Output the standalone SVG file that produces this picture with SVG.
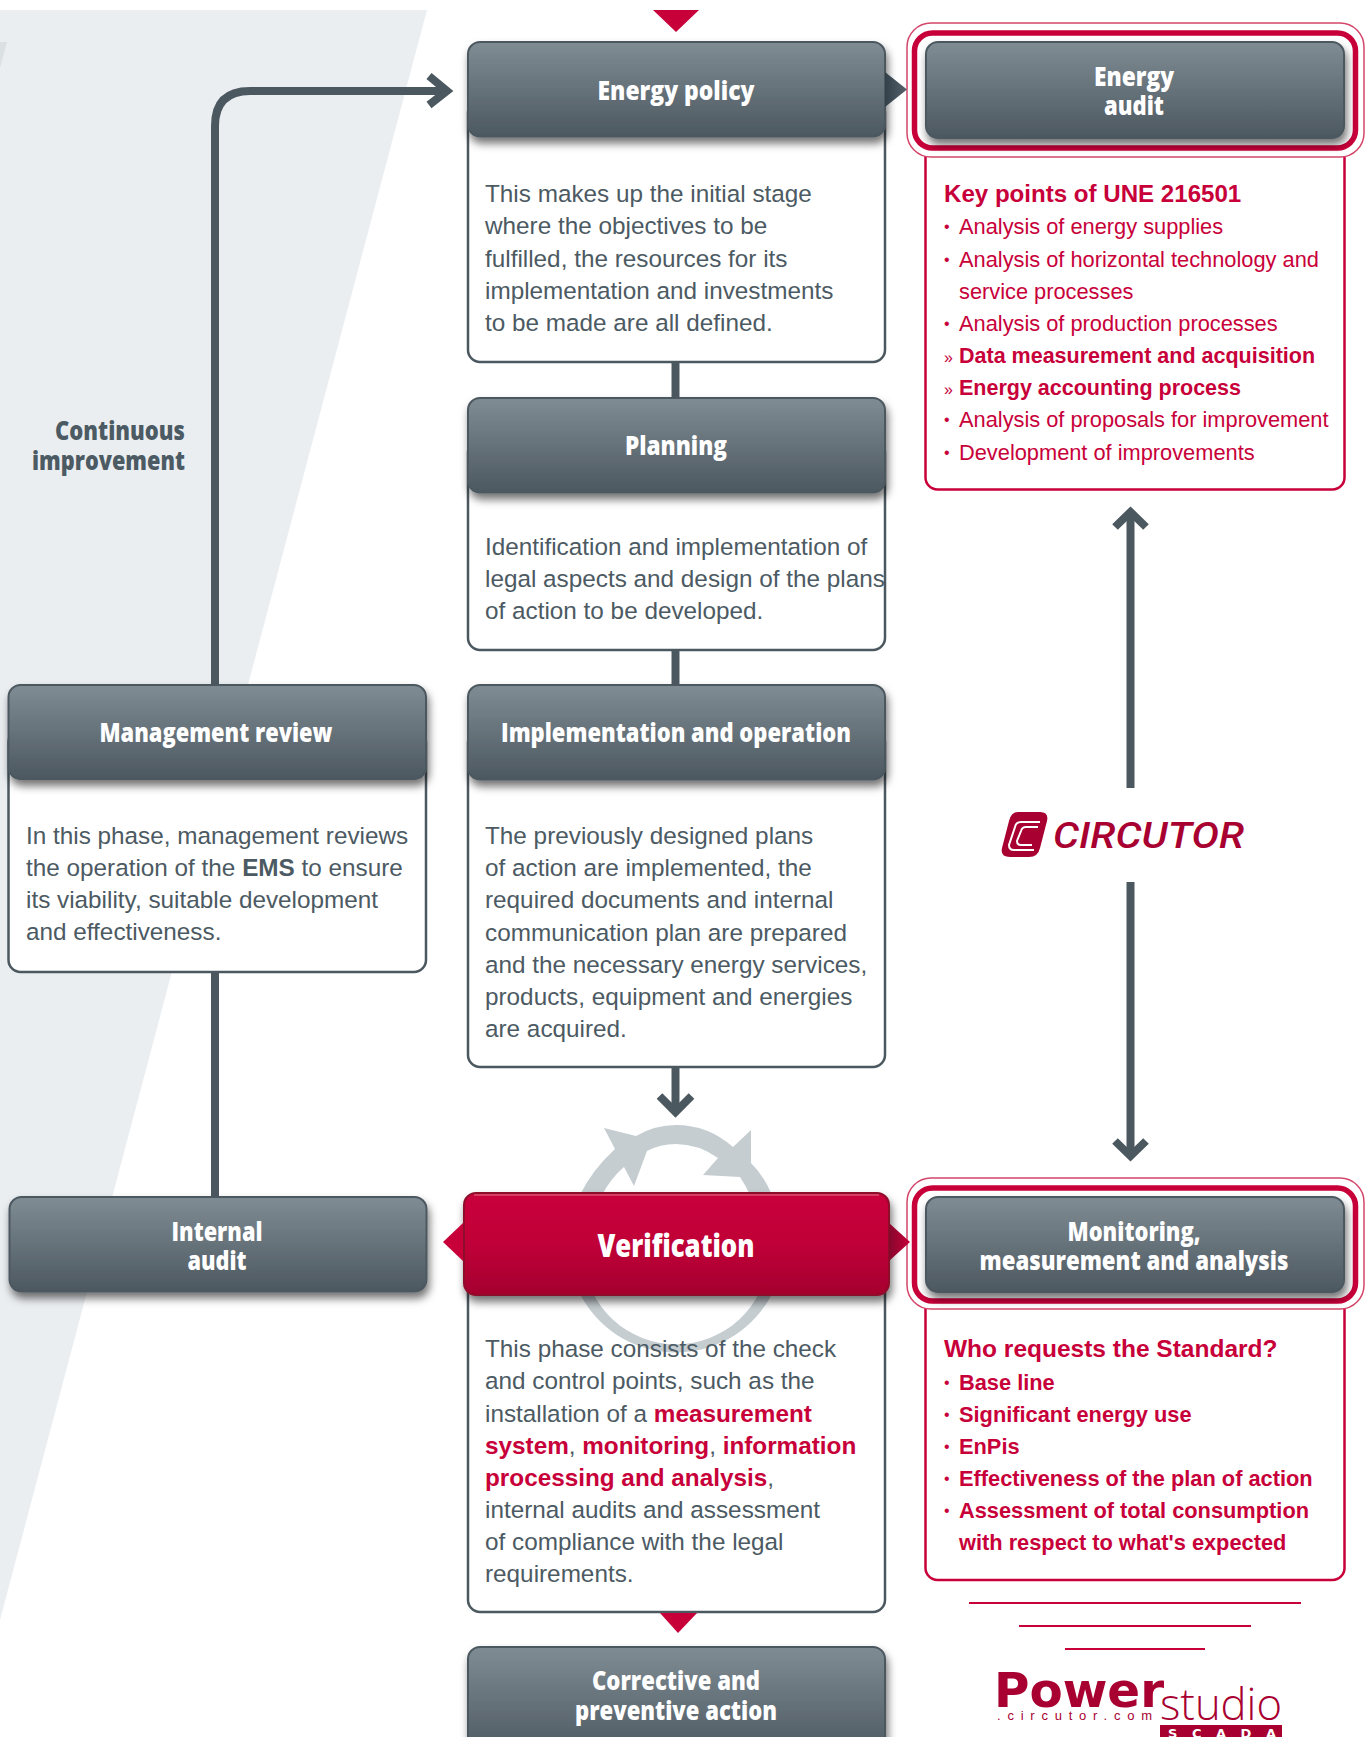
<svg xmlns="http://www.w3.org/2000/svg" width="1367" height="1737" viewBox="0 0 1367 1737">
<style>
.hd{font-family:"Open Sans","Noto Sans",sans-serif;font-weight:800;font-size:26px;fill:#fff;text-anchor:middle}
.b{font-family:"Liberation Sans",Arial,sans-serif;font-size:24.300px;fill:#4c5a63}
.r{font-family:"Liberation Sans",Arial,sans-serif;font-size:21.800px;fill:#c8003a}
.m{font-family:"Liberation Sans",Arial,sans-serif;font-size:16px;fill:#c8003a}
.rb{font-weight:700}
.card{fill:#fff;stroke:#4c5860;stroke-width:2.500}
.rcard{fill:#fff;stroke:#c8003a;stroke-width:2.500}
.hdr{fill:url(#gh);stroke:#4c5860;stroke-width:2}
.conn{fill:none;stroke:#4c5860;stroke-width:8}
</style>
<defs>
<linearGradient id="gh" x1="0" y1="0" x2="0" y2="1"><stop offset="0" stop-color="#808c93"/><stop offset="1" stop-color="#4c5860"/></linearGradient>
<linearGradient id="gr" x1="0" y1="0" x2="0" y2="1"><stop offset="0" stop-color="#c9033b"/><stop offset=".5" stop-color="#c00238"/><stop offset="1" stop-color="#a5002e"/></linearGradient>
<linearGradient id="ga" x1="0" y1="0" x2="1" y2="0"><stop offset="0" stop-color="#33404a"/><stop offset="1" stop-color="#56636b"/></linearGradient>
<linearGradient id="gra" x1="0" y1="0" x2="1" y2="0"><stop offset="0" stop-color="#85082c"/><stop offset="1" stop-color="#c8003a"/></linearGradient>
<filter id="sh" x="-10%" y="-20%" width="120%" height="150%"><feDropShadow dx="2" dy="6" stdDeviation="4" flood-color="#000" flood-opacity=".55"/></filter>
</defs>
<rect width="1367" height="1737" fill="#fff"/>
<g id="background">
<polygon points="0,10 427,10 0,1620" fill="#ebeef1"/>
<polygon points="0,42 7,42 0,68" fill="#dbe0e3"/>
</g>
<g id="card-bodies">
<rect class="card" x="468" y="100" width="417" height="262" rx="12"/>
<rect class="card" x="468" y="440" width="417" height="210" rx="12"/>
<rect class="card" x="468" y="730" width="417" height="337" rx="12"/>
<rect class="card" x="8.500" y="730" width="417.500" height="242" rx="12"/>
<rect class="card" x="468" y="1250" width="417" height="362" rx="12"/>
<rect class="rcard" x="925.500" y="120" width="419" height="369.500" rx="12"/>
<rect class="rcard" x="925.500" y="1260" width="419" height="320" rx="12"/>
</g>
<g id="connectors">
<path class="conn" d="M215 684V126Q215 91 250 91H447"/>
<polyline class="conn" points="429,76 447,91 429,105"/>
<line class="conn" x1="215" y1="972" x2="215" y2="1196"/>
<line class="conn" x1="675.500" y1="362" x2="675.500" y2="398"/>
<line class="conn" x1="675.500" y1="650" x2="675.500" y2="685"/>
<path class="conn" d="M675.500 1067V1112"/>
<polyline class="conn" points="659.500,1096 675.500,1112 691.500,1096"/>
<path class="conn" d="M1130.500 788V512"/>
<polyline class="conn" points="1115,527 1130.500,512 1146,527"/>
<path class="conn" d="M1130.500 882V1156"/>
<polyline class="conn" points="1115,1141 1130.500,1156 1146,1141"/>
</g>
<g id="cycle-arrows">
<path fill="#c5cdd1" fill-rule="evenodd" d="M580 1195A108 108 0 1 0 772 1195L750 1195A93 93 0 1 1 602 1195Z"/>
<path fill="#c5cdd1" d="M580 1195Q592 1170 615 1149L604 1128 636 1136Q655 1125 676 1125Q708 1125 733 1147L751 1130V1163Q764 1176 772 1195H750Q746 1186 740 1177L703 1175 718 1158Q698 1144 676 1144Q660 1144 647 1151L634 1186 624 1167Q611 1178 602 1195Z"/>
</g>
<g id="energy-policy">
<rect class="hdr" x="468" y="42" width="417" height="94.500" rx="12" filter="url(#sh)"/>
<text class="hd" x="676" y="100" textLength="157" lengthAdjust="spacingAndGlyphs">Energy policy</text>
<text class="b" x="485" y="202">This makes up the initial stage</text>
<text class="b" x="485" y="234">where the objectives to be</text>
<text class="b" x="485" y="266.500">fulfilled, the resources for its</text>
<text class="b" x="485" y="298.700">implementation and investments</text>
<text class="b" x="485" y="331">to be made are all defined.</text>
</g>
<g id="planning">
<rect class="hdr" x="468" y="398" width="417" height="94.500" rx="12" filter="url(#sh)"/>
<text class="hd" x="676" y="455" textLength="102" lengthAdjust="spacingAndGlyphs">Planning</text>
<text class="b" x="485" y="555">Identification and implementation of</text>
<text class="b" x="485" y="587">legal aspects and design of the plans</text>
<text class="b" x="485" y="619">of action to be developed.</text>
</g>
<g id="implementation">
<rect class="hdr" x="468" y="685" width="417" height="94.500" rx="12" filter="url(#sh)"/>
<text class="hd" x="676" y="742" textLength="350" lengthAdjust="spacingAndGlyphs">Implementation and operation</text>
<text class="b" x="485" y="844">The previously designed plans</text>
<text class="b" x="485" y="876">of action are implemented, the</text>
<text class="b" x="485" y="908">required documents and internal</text>
<text class="b" x="485" y="941">communication plan are prepared</text>
<text class="b" x="485" y="973">and the necessary energy services,</text>
<text class="b" x="485" y="1005">products, equipment and energies</text>
<text class="b" x="485" y="1037">are acquired.</text>
</g>
<g id="management-review">
<rect class="hdr" x="8.500" y="685" width="417.500" height="94" rx="12" filter="url(#sh)"/>
<text class="hd" x="216" y="742" textLength="233" lengthAdjust="spacingAndGlyphs">Management review</text>
<text class="b" x="26" y="844">In this phase, management reviews</text>
<text class="b" x="26" y="876">the operation of the <tspan font-weight="700">EMS</tspan> to ensure</text>
<text class="b" x="26" y="908">its viability, suitable development</text>
<text class="b" x="26" y="940">and effectiveness.</text>
</g>
<g id="continuous-improvement">
<text class="hd" x="185" y="440" style="text-anchor:end;fill:#4c5a63" textLength="130" lengthAdjust="spacingAndGlyphs">Continuous</text>
<text class="hd" x="185" y="470" style="text-anchor:end;fill:#4c5a63" textLength="153" lengthAdjust="spacingAndGlyphs">improvement</text>
</g>
<g id="internal-audit">
<rect class="hdr" x="9.500" y="1197" width="417" height="94.500" rx="12" filter="url(#sh)"/>
<text class="hd" x="217" y="1241" textLength="91" lengthAdjust="spacingAndGlyphs">Internal</text>
<text class="hd" x="217" y="1270" textLength="59" lengthAdjust="spacingAndGlyphs">audit</text>
</g>
<g id="verification">
<rect x="464" y="1193" width="425" height="102" rx="12" fill="url(#gr)" stroke="#8e0a2c" stroke-width="2" filter="url(#sh)"/>
<line x1="474" y1="1195" x2="879" y2="1195" stroke="#d9536f" stroke-width="1.500"/>
<text class="hd" x="676" y="1257" style="font-size:32px" textLength="157" lengthAdjust="spacingAndGlyphs">Verification</text>
<text class="b" x="485" y="1357">This phase consists of the check</text>
<text class="b" x="485" y="1389">and control points, such as the</text>
<text class="b" x="485" y="1422">installation of a <tspan class="rb" fill="#c8003a">measurement</tspan></text>
<text class="b" x="485" y="1454"><tspan class="rb" fill="#c8003a">system</tspan>, <tspan class="rb" fill="#c8003a">monitoring</tspan>, <tspan class="rb" fill="#c8003a">information</tspan></text>
<text class="b" x="485" y="1486"><tspan class="rb" fill="#c8003a">processing and analysis</tspan>,</text>
<text class="b" x="485" y="1518">internal audits and assessment</text>
<text class="b" x="485" y="1550">of compliance with the legal</text>
<text class="b" x="485" y="1582">requirements.</text>
</g>
<g id="corrective-action">
<rect class="hdr" x="468" y="1647" width="417" height="110" rx="12" filter="url(#sh)"/>
<text class="hd" x="676" y="1690" textLength="168" lengthAdjust="spacingAndGlyphs">Corrective and</text>
<text class="hd" x="676" y="1720" textLength="202" lengthAdjust="spacingAndGlyphs">preventive action</text>
</g>
<g id="energy-audit">
<rect x="907" y="23" width="457" height="134" rx="24" fill="#fff" stroke="#d4466b" stroke-width="1.500"/>
<rect x="914.500" y="33" width="441" height="115" rx="18" fill="#fff" stroke="#c8003a" stroke-width="5.500"/>
<rect class="hdr" x="926" y="42" width="418" height="96" rx="12" filter="url(#sh)"/>
<text class="hd" x="1134" y="86" textLength="80" lengthAdjust="spacingAndGlyphs">Energy</text>
<text class="hd" x="1134" y="115" textLength="60" lengthAdjust="spacingAndGlyphs">audit</text>
<text class="r rb" x="944" y="202" style="font-size:24.100px">Key points of UNE 216501</text>
<text class="m" x="944" y="232">•</text><text class="r" x="959" y="234">Analysis of energy supplies</text>
<text class="m" x="944" y="264.500">•</text><text class="r" x="959" y="266.500">Analysis of horizontal technology and</text>
<text class="r" x="959" y="298.500">service processes</text>
<text class="m" x="944" y="329">•</text><text class="r" x="959" y="331">Analysis of production processes</text>
<text class="m" x="944" y="363">»</text><text class="r rb" x="959" y="363" style="font-size:21.500px">Data measurement and acquisition</text>
<text class="m" x="944" y="395">»</text><text class="r rb" x="959" y="395" style="font-size:21.500px">Energy accounting process</text>
<text class="m" x="944" y="425">•</text><text class="r" x="959" y="427">Analysis of proposals for improvement</text>
<text class="m" x="944" y="457.500">•</text><text class="r" x="959" y="459.500">Development of improvements</text>
</g>
<g id="monitoring">
<rect x="907" y="1178" width="457" height="131" rx="24" fill="#fff" stroke="#d4466b" stroke-width="1.500"/>
<rect x="914.500" y="1188" width="441" height="113" rx="18" fill="#fff" stroke="#c8003a" stroke-width="5.500"/>
<rect class="hdr" x="926" y="1197" width="418" height="95" rx="12" filter="url(#sh)"/>
<text class="hd" x="1134" y="1241" textLength="133" lengthAdjust="spacingAndGlyphs">Monitoring,</text>
<text class="hd" x="1134" y="1270" textLength="309" lengthAdjust="spacingAndGlyphs">measurement and analysis</text>
<text class="r rb" x="944" y="1357" style="font-size:24.500px">Who requests the Standard?</text>
<text class="m" x="944" y="1388">•</text><text class="r rb" x="959" y="1390">Base line</text>
<text class="m" x="944" y="1420">•</text><text class="r rb" x="959" y="1422">Significant energy use</text>
<text class="m" x="944" y="1452">•</text><text class="r rb" x="959" y="1454">EnPis</text>
<text class="m" x="944" y="1484">•</text><text class="r rb" x="959" y="1486">Effectiveness of the plan of action</text>
<text class="m" x="944" y="1516">•</text><text class="r rb" x="959" y="1518">Assessment of total consumption</text>
<text class="r rb" x="959" y="1550">with respect to what's expected</text>
</g>
<g id="connector-heads">
<polygon points="653,10 699,10 676,32" fill="#c8003a"/>
<polygon points="885,72 907,89.500 885,107" fill="url(#ga)"/>
<polygon points="660,1613 697,1613 678,1633" fill="#c8003a"/>
<polygon points="463,1223 443,1242 463,1261" fill="#c8003a"/>
<polygon points="889,1223 910,1242 889,1261" fill="url(#gra)"/>
</g>
<g id="circutor-logo">
<path fill="#a80030" fill-rule="evenodd" d="M1018 812H1040Q1049 812 1047 821L1040 848Q1038 857 1029 857H1010Q1000 857 1002 848L1009 821Q1011 812 1018 812Z"/>
<path fill="none" stroke="#fff" stroke-width="2" d="M1040 822H1021Q1016 822 1015 827L1009 845Q1009 850 1014 850H1034M1038 827H1026Q1022 827 1021 831L1017 841Q1017 845 1021 845H1032"/>
<text x="1053" y="848" font-family="Roboto,'Liberation Sans',sans-serif" font-weight="500" font-style="italic" font-size="36" fill="#a80030" textLength="191" lengthAdjust="spacingAndGlyphs">CIRCUTOR</text>
</g>
<g id="powerstudio-logo">
<line x1="969" y1="1603" x2="1301" y2="1603" stroke="#c8003a" stroke-width="2"/>
<line x1="1019" y1="1626" x2="1251" y2="1626" stroke="#c8003a" stroke-width="2"/>
<line x1="1065" y1="1649" x2="1205" y2="1649" stroke="#c8003a" stroke-width="2"/>
<text x="994" y="1707" font-family="'DejaVu Sans',sans-serif" font-weight="700" font-size="48" fill="#a80030" textLength="170" lengthAdjust="spacingAndGlyphs">Power</text>
<text x="997" y="1720" font-family="'Liberation Sans',sans-serif" font-size="13" fill="#a80030" textLength="155">.circutor.com</text>
<text x="1160" y="1720" font-family="'Open Sans',sans-serif" font-weight="300" font-size="44" fill="#a80030" textLength="122" lengthAdjust="spacingAndGlyphs">studio</text>
<rect x="1160" y="1725" width="122" height="12" fill="#a80030"/>
<text x="1168" y="1738" font-family="'DejaVu Sans',sans-serif" font-weight="700" font-size="13" fill="#fff" textLength="108">SCADA</text>
</g>
</svg>
